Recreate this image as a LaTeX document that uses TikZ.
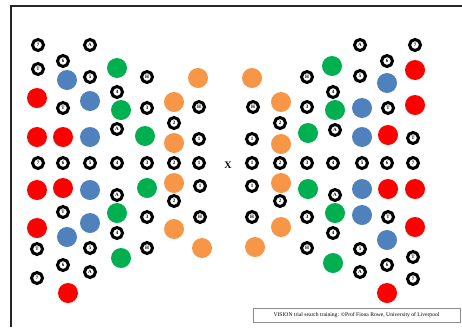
\documentclass[tikz,border=0pt]{standalone}
\usepackage{fontspec}
\setmainfont{Liberation Serif}
\definecolor{dotred}{HTML}{FF0000}
\definecolor{dotblue}{HTML}{4F81BD}
\definecolor{dotgreen}{HTML}{00B050}
\definecolor{dotorange}{HTML}{F79646}

\begin{document}
\begin{tikzpicture}[x=1pt,y=-1pt,
        ring/.style={circle,draw=black,line width=3pt,minimum size=11pt,inner sep=0pt,
            font=\fontsize{5}{5}\selectfont\bfseries},
        spot/.style={circle,fill=#1,minimum size=20pt,inner sep=0pt}]

        \useasboundingbox (0,0) rectangle (462,327);
        \draw[line width=2pt,black!85] (11,327) -- (11,5.5) -- (462,5.5);

        % open targets, left half
        \foreach \x/\y/\t [count=\n] in {
            38/45/7, 90/45/A, 63/61/6, 38/69/T, 90/77/5, 147/77/H, 117/92/4,
            63/108/T, 147/108/3, 117/129/A,
            38/163/7, 63/163/6, 90/163/5, 117/163/4, 147/163/3, 174/163/2, 199/163/1,
            117/195/A, 63/212/T, 147/217/3, 117/233/4, 37/249/T, 90/248/5, 147/248/H,
            63/265/6, 90/272/A, 37/278/7,
            199/107/H, 174/123/2, 199/139/1, 200/186/1, 174/201/2, 200/217/H}
            \node[ring] (l\n) at (\x,\y) {\t};

        % open targets, right half
        \foreach \x/\y/\t [count=\n] in {
            253/107/H, 280/123/2, 252/139/1, 252/186/1, 280/201/2, 252/217/H,
            252/163/1, 280/163/2, 307/163/3, 333/163/4, 362/163/5, 387/163/6, 413/163/7,
            360/45/A, 415/45/7, 387/61/6, 307/77/H, 360/76/5, 333/92/4, 307/107/3,
            388/108/T, 335/130/A, 413/138/T,
            335/195/A, 307/217/3, 388/217/T, 333/233/4, 307/248/H, 360/249/5,
            413/257/T, 387/265/6, 360/272/A, 413/279/7}
            \node[ring] (r\n) at (\x,\y) {\t};

        % filled distractors
        \foreach \x/\y/\c [count=\n] in {
            37/98/dotred, 37/137/dotred, 63/137/dotred, 37/190/dotred, 63/188/dotred,
            37/228/dotred, 68/293/dotred,
            67/80/dotblue, 90/101/dotblue, 90/137/dotblue, 90/190/dotblue, 90/223/dotblue,
            67/237/dotblue,
            117/68/dotgreen, 121/110/dotgreen, 145/136/dotgreen, 147/188/dotgreen,
            117/213/dotgreen, 121/258/dotgreen,
            198/78/dotorange, 174/102/dotorange, 174/143/dotorange, 174/183/dotorange,
            174/229/dotorange, 202/248/dotorange,
            252/78/dotorange, 281/102/dotorange, 281/144/dotorange, 281/183/dotorange,
            281/227/dotorange, 255/247/dotorange,
            332/66/dotgreen, 335/110/dotgreen, 308/133/dotgreen, 308/189/dotgreen,
            335/213/dotgreen, 333/263/dotgreen,
            387/83/dotblue, 362/108/dotblue, 362/137/dotblue, 362/189/dotblue,
            362/215/dotblue, 387/240/dotblue,
            415/70/dotred, 415/105/dotred, 388/135/dotred, 388/189/dotred, 415/189/dotred,
            415/227/dotred, 387/293/dotred}
            \node[spot=\c] (f\n) at (\x,\y) {};

        \node[font=\fontsize{10}{10}\selectfont\bfseries] (cross) at (228,165) {X};

        \node[draw=black!45,line width=0.5pt,minimum width=207pt,minimum height=14pt,inner sep=0pt,
            font=\fontsize{5.6}{6}\selectfont] (credit) at (356.5,315)
            {VISION trial search training: \textcopyright Prof Fiona Rowe, University of Liverpool};

\end{tikzpicture}
\end{document}
